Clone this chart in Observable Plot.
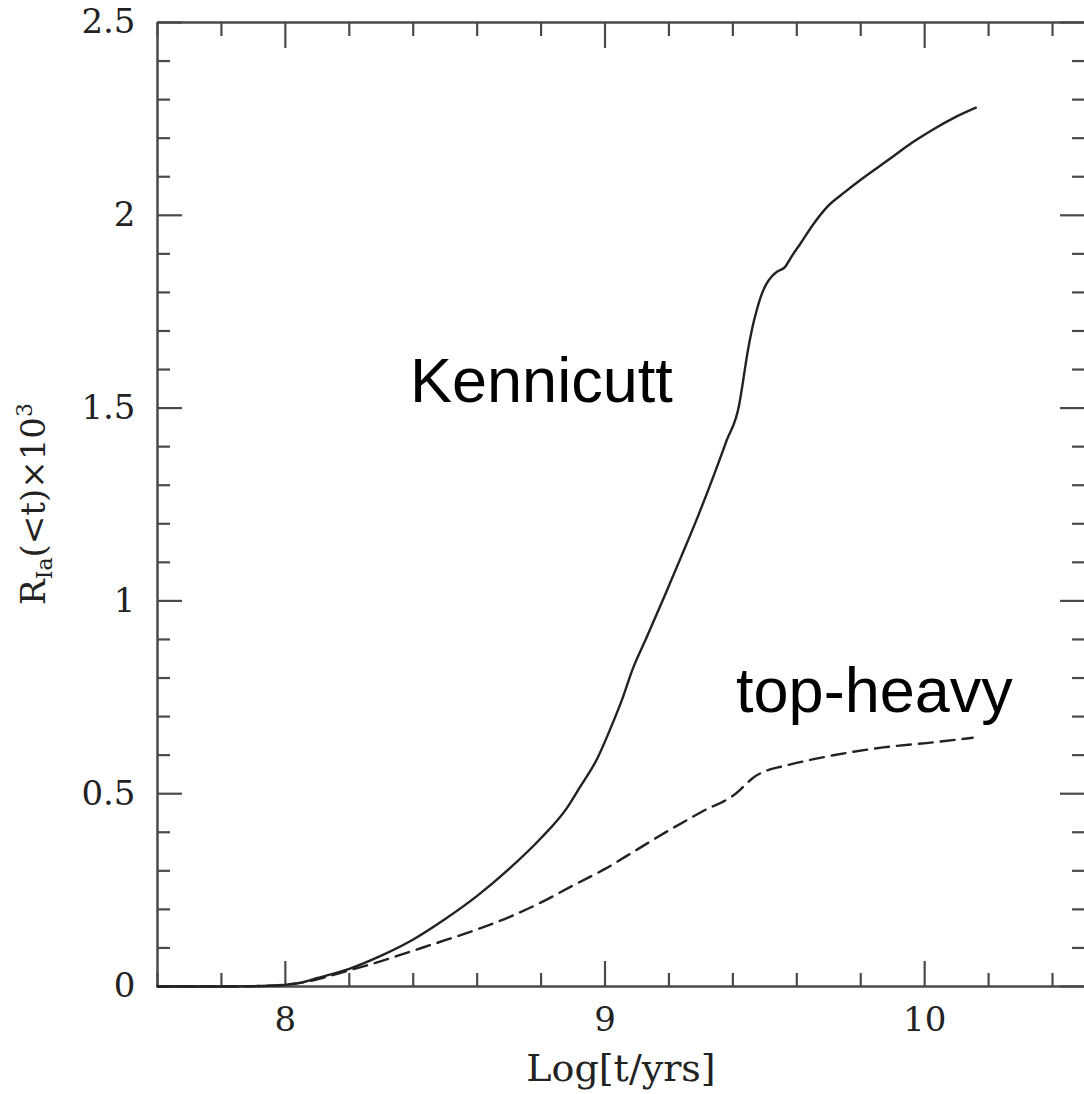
<!DOCTYPE html>
<html>
<head>
<meta charset="utf-8">
<script src="https://cdn.jsdelivr.net/npm/d3@7"></script>
<script src="https://cdn.jsdelivr.net/npm/@observablehq/plot@0.6"></script>
<style>
  html, body { margin: 0; padding: 0; background: #fff; }
  #chart svg { display: block; }
</style>
</head>
<body>
<div id="chart"></div>
<script>
// ---- data ----
const kennicuttLogT = [7.6, 7.8, 7.95, 8.05, 8.1, 8.2, 8.3, 8.4, 8.5, 8.6, 8.7, 8.8, 8.88, 8.92, 8.975, 9.025, 9.055, 9.085, 9.13, 9.19, 9.24, 9.29, 9.34, 9.38, 9.42, 9.43, 9.445, 9.46, 9.475, 9.49, 9.505, 9.52, 9.537, 9.562, 9.585, 9.61, 9.65, 9.695, 9.75, 9.8, 9.85, 9.9, 9.96, 10.025, 10.09, 10.16];
const kennicuttR    = [0, 0, 0.002, 0.01, 0.022, 0.046, 0.08, 0.122, 0.175, 0.235, 0.305, 0.385, 0.462, 0.515, 0.59, 0.685, 0.748, 0.82, 0.905, 1.02, 1.118, 1.218, 1.325, 1.415, 1.51, 1.56, 1.64, 1.705, 1.755, 1.795, 1.822, 1.84, 1.853, 1.865, 1.895, 1.925, 1.975, 2.022, 2.06, 2.092, 2.122, 2.152, 2.188, 2.222, 2.252, 2.279];

const topHeavyLogT = [7.6, 7.8, 7.95, 8.05, 8.2, 8.3, 8.4, 8.5, 8.6, 8.7, 8.8, 8.9, 9.0, 9.1, 9.2, 9.3, 9.42, 9.435, 9.47, 9.506, 9.556, 9.71, 9.87, 10.025, 10.15];
const topHeavyR    = [0, 0, 0.002, 0.01, 0.042, 0.066, 0.093, 0.12, 0.148, 0.18, 0.218, 0.262, 0.305, 0.355, 0.405, 0.452, 0.508, 0.52, 0.545, 0.56, 0.571, 0.599, 0.62, 0.633, 0.645];

const seriesNames = ["Kennicutt", "top-heavy"];

const xMajorTicks = [8, 9, 10];
const xTickLabels = ["8", "9", "10"];
const xMinorTicks = [7.6, 7.8, 8.2, 8.4, 8.6, 8.8, 9.2, 9.4, 9.6, 9.8, 10.2, 10.4];
const yMajorTicks = [0, 0.5, 1, 1.5, 2, 2.5];
const yTickLabels = ["0", "0.5", "1", "1.5", "2", "2.5"];
const yMinorTicks = [0.1, 0.2, 0.3, 0.4, 0.6, 0.7, 0.8, 0.9, 1.1, 1.2, 1.3, 1.4, 1.6, 1.7, 1.8, 1.9, 2.1, 2.2, 2.3, 2.4];

const xAxisTitle = "Log[t/yrs]";

// annotation anchors in data space
const annotations = [
  {text: seriesNames[0], x: 8.39, y: 1.517},
  {text: seriesNames[1], x: 9.41, y: 0.711}
];

// ---- build ----
const kennicutt = kennicuttLogT.map((x, i) => ({x, y: kennicuttR[i]}));
const topHeavy = topHeavyLogT.map((x, i) => ({x, y: topHeavyR[i]}));
const xLab = new Map(xMajorTicks.map((d, i) => [d, xTickLabels[i]]));
const yLab = new Map(yMajorTicks.map((d, i) => [d, yTickLabels[i]]));

const frameColor = "#4a4a4a";
const serif = "DejaVu Serif";
const majorLen = 25, minorLen = 13;
const blank = () => "";

function tickAxes(ticks, len) {
  const common = {tickSize: len, tickFormat: blank, label: null, stroke: frameColor, strokeWidth: 2.2};
  return [
    Plot.axisX(ticks.x, {...common, anchor: "bottom", dy: -len}),
    Plot.axisX(ticks.x, {...common, anchor: "top", dy: len}),
    Plot.axisY(ticks.y, {...common, anchor: "left", dx: len}),
    Plot.axisY(ticks.y, {...common, anchor: "right", dx: -len})
  ];
}

const chart = Plot.plot({
  width: 1084,
  height: 1094,
  marginLeft: 157,
  marginRight: 0,
  marginTop: 22,
  marginBottom: 108,
  style: {background: "#fff", color: "#222"},
  x: {domain: [7.6, 10.5]},
  y: {domain: [0, 2.5]},
  marks: [
    // frame (left, top, bottom edges; the right edge falls just outside the picture)
    Plot.ruleY([0, 2.5], {stroke: frameColor, strokeWidth: 2.5}),
    Plot.ruleX([7.6], {stroke: frameColor, strokeWidth: 2.5}),
    ...tickAxes({x: xMajorTicks, y: yMajorTicks}, majorLen),
    ...tickAxes({x: xMinorTicks, y: yMinorTicks}, minorLen),
    Plot.axisX(xMajorTicks, {anchor: "bottom", tickSize: 0, tickPadding: 20, tickFormat: d => xLab.get(d),
      fontSize: 34, fontFamily: serif, label: null}),
    Plot.axisY(yMajorTicks, {anchor: "left", tickSize: 0, tickPadding: 22, tickFormat: d => yLab.get(d),
      fontSize: 34, fontFamily: serif, label: null}),
    Plot.text([xAxisTitle], {frameAnchor: "bottom", dy: 94, lineAnchor: "bottom", text: d => d,
      fontSize: 38, fontFamily: serif, fill: "#222"}),
    Plot.line(topHeavy, {x: "x", y: "y", stroke: "#222", strokeWidth: 2.4, strokeDasharray: "14,8", curve: "monotone-x"}),
    Plot.line(kennicutt, {x: "x", y: "y", stroke: "#222", strokeWidth: 2.4, curve: "monotone-x"}),
    Plot.text(annotations, {x: "x", y: "y", text: "text", textAnchor: "start", lineAnchor: "bottom",
      fontSize: 63, fontFamily: "Liberation Sans", fill: "#000"})
  ]
});

document.getElementById("chart").appendChild(chart);

// rotated y-axis title with subscript / superscript
const svg = d3.select(chart);
const yTitle = svg.append("text")
  .attr("transform", "translate(45,504) rotate(-90)")
  .attr("text-anchor", "middle")
  .attr("font-family", serif)
  .attr("font-size", 34)
  .attr("fill", "#222");
yTitle.append("tspan").text("R");
yTitle.append("tspan").attr("font-size", 22).attr("dy", 7).text("Ia");
yTitle.append("tspan").attr("dy", -7).text("(<t)×10");
yTitle.append("tspan").attr("font-size", 22).attr("dy", -13).text("3");
</script>
</body>
</html>
